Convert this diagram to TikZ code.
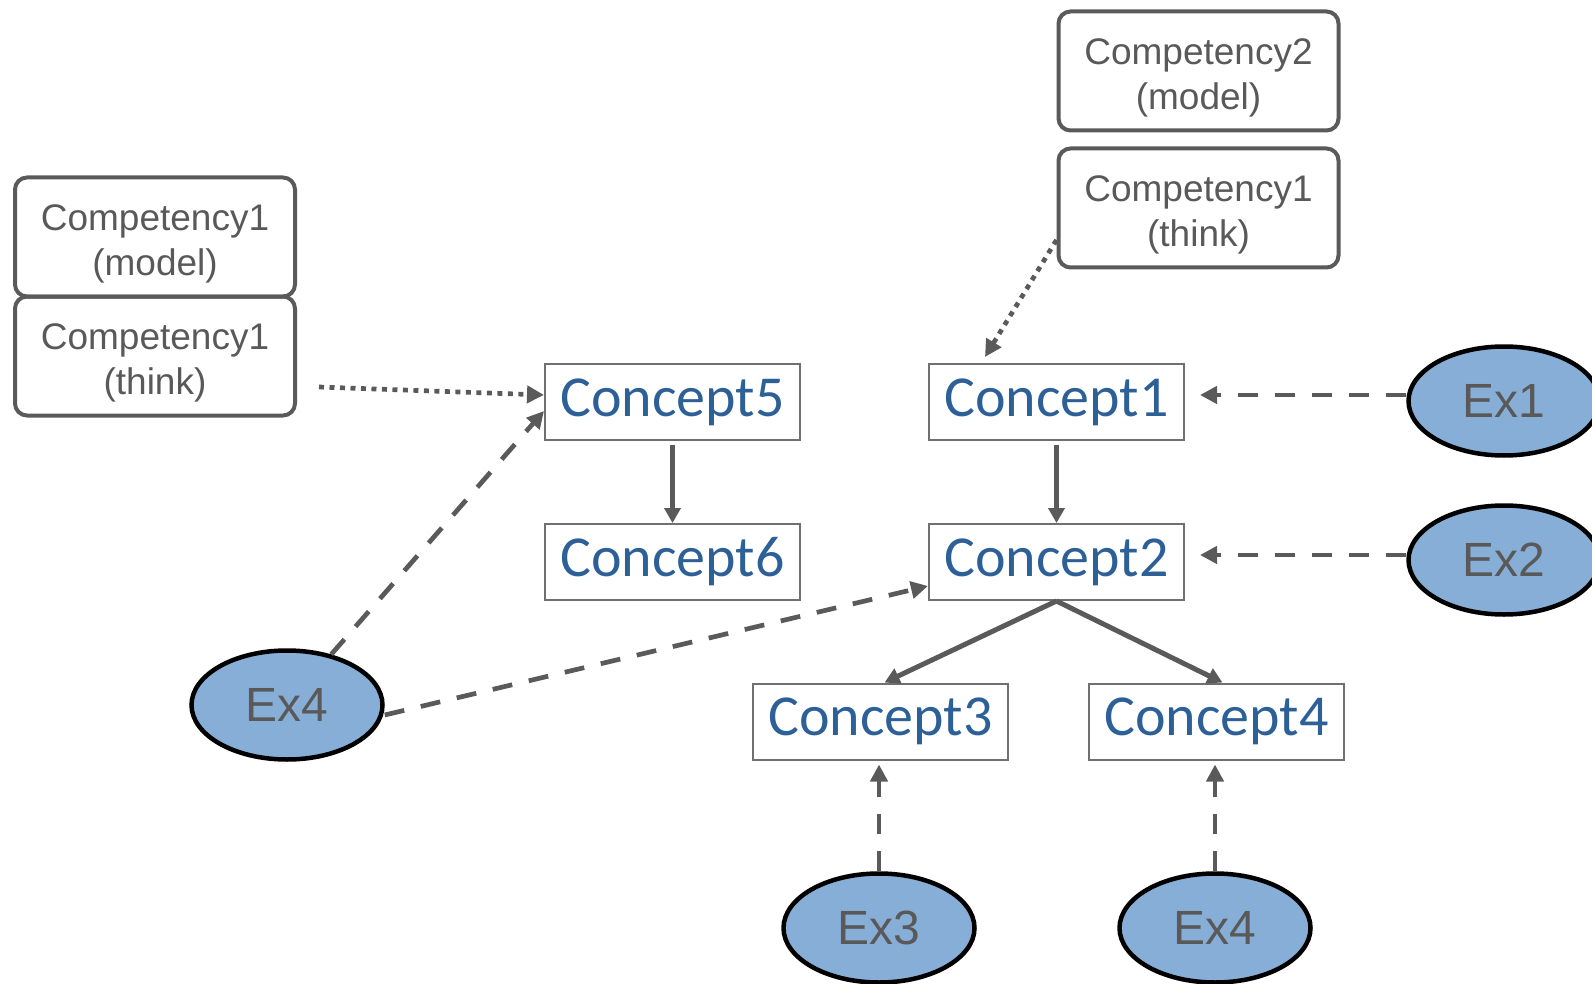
\documentclass[tikz,border=0pt]{standalone}
\usepackage{fontspec}
\setmainfont{Liberation Sans}
\newfontfamily\conceptfont{Carlito}
\usetikzlibrary{shapes.geometric,arrows.meta,calc}
\definecolor{linegray}{RGB}{90,90,90}
\definecolor{boxgray}{RGB}{112,112,112}
\definecolor{textgray}{RGB}{89,89,89}
\definecolor{conceptblue}{RGB}{46,96,152}
\definecolor{exfill}{RGB}{135,174,214}
\newcommand{\firstline}{\rule{0pt}{39pt}}
\begin{document}
\begin{tikzpicture}[x=1pt,y=-1pt,
  competency/.style={draw=linegray, line width=4pt, rounded corners=12pt,
    minimum width=280pt, minimum height=119pt, inner sep=0pt, align=center,
    text=textgray, font=\fontsize{37}{45}\selectfont},
  concept/.style={draw=boxgray, line width=2pt, minimum width=255pt,
    minimum height=76pt, inner sep=0pt, text=conceptblue,
    font=\conceptfont\fontsize{58}{60}\selectfont},
  exercise/.style={ellipse, draw=black, line width=4.5pt, fill=exfill,
    minimum width=191pt, minimum height=109pt, inner sep=0pt,
    text=textgray, font=\fontsize{48}{50}\selectfont},
  linkdash/.style={draw=linegray, line width=4.7pt, dash pattern=on 20pt off 17pt,
    -{Triangle[length=17pt,width=17pt]}},
  linkdot/.style={draw=linegray, line width=4.7pt, dash pattern=on 5pt off 5.5pt,
    -{Triangle[length=17pt,width=17pt]}},
  linksolid/.style={draw=linegray, line width=5pt,
    -{Triangle[length=15pt,width=16pt]}}]
\useasboundingbox (0,0) rectangle (1592,984);
\clip (0,0) rectangle (1592,984);

% competency boxes
\node[competency] (cm1) at (155,237) {\firstline Competency1\\(model)};
\node[competency] (ct1) at (155,356) {\firstline Competency1\\(think)};
\node[competency] (cm2) at (1198.5,71) {\firstline Competency2\\(model)};
\node[competency] (ct2) at (1198.5,208) {\firstline Competency1\\(think)};

% concepts
\node[concept] (c5) at (672.5,402) {Concept5};
\node[concept] (c6) at (672.5,562) {Concept6};
\node[concept] (c1) at (1056.5,402) {Concept1};
\node[concept] (c2) at (1056.5,562) {Concept2};
\node[concept] (c3) at (880.5,721.5) {Concept3};
\node[concept] (c4) at (1216.5,721.5) {Concept4};

% exercises
\node[exercise] (e1) at (1504,401) {Ex1};
\node[exercise] (e2) at (1504,560) {Ex2};
\node[exercise] (e4a) at (287,705) {Ex4};
\node[exercise] (e3) at (879,928) {Ex3};
\node[exercise] (e4b) at (1215,928) {Ex4};

% concept hierarchy
\draw[linksolid] ([yshift=-4pt]c5.south) -- (c5.south |- c6.north);
\draw[linksolid] ([yshift=-4pt]c1.south) -- (c1.south |- c2.north);
\draw[linksolid] (c2.south) -- ([xshift=4pt]c3.north);
\draw[linksolid] (c2.south) -- ([xshift=6pt]c4.north);

% competency links
\draw[linkdot] ([xshift=22pt,yshift=-31pt]ct1.east) -- ([yshift=7pt]c5.west);
\draw[linkdot] ([yshift=-32pt]ct2.west) -- ([xshift=57pt,yshift=6pt]c1.north west);

% exercise links
\draw[linkdash] (e4a) -- ([yshift=-9pt]c5.west);
\draw[linkdash] ([yshift=-10pt]e4a.east) -- ([yshift=-24pt]c2.west);
\draw[linkdash] ([yshift=6pt]e1.west) -- ([xshift=15pt,yshift=7pt]c1.east);
\draw[linkdash] ([yshift=5pt]e2.west) -- ([xshift=15pt,yshift=7pt]c2.east);
\draw[linkdash] (e3.north) -- ([yshift=-4pt]c3.south -| e3.north);
\draw[linkdash] (e4b.north) -- ([yshift=-4pt]c4.south -| e4b.north);
\end{tikzpicture}
\end{document}
